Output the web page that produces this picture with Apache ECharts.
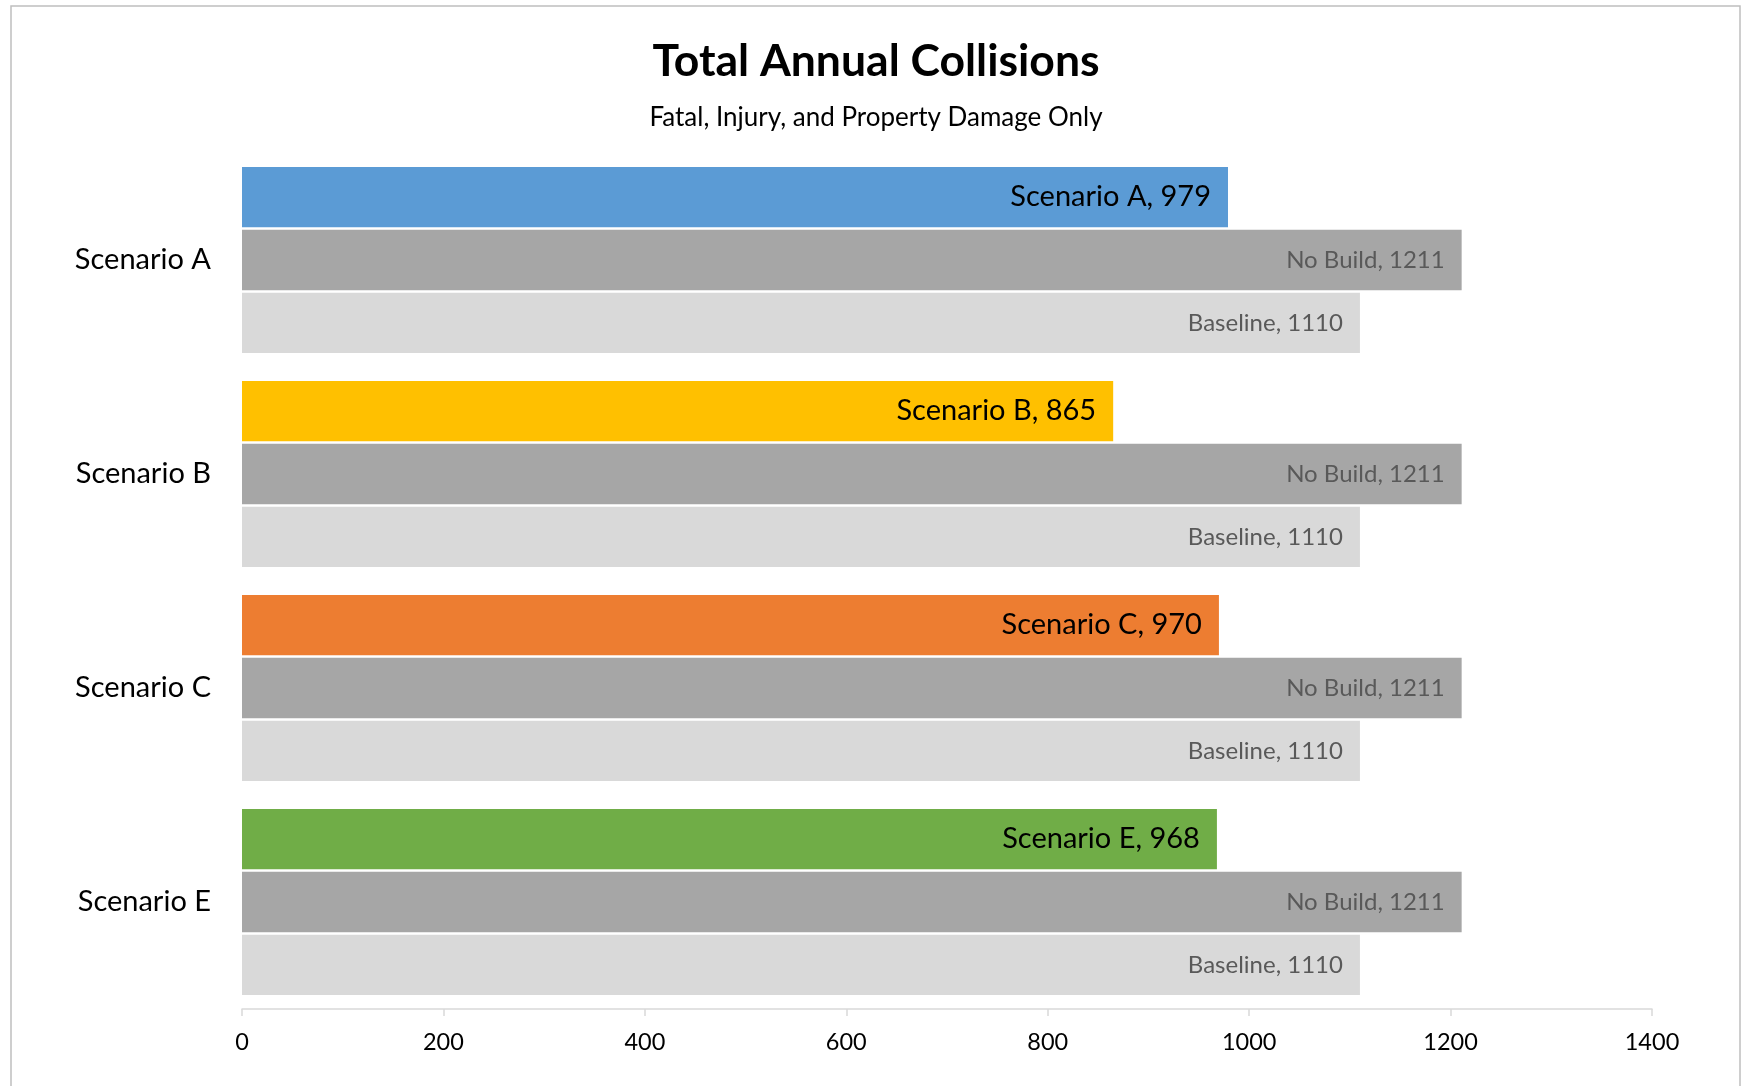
<!DOCTYPE html>
<html>
<head>
<meta charset="utf-8">
<script src="https://cdn.jsdelivr.net/npm/echarts@6/dist/echarts.min.js"></script>
<style>
html,body{margin:0;padding:0;background:#fff;}
#chart{width:1741px;height:1086px;}
</style>
</head>
<body>
<div id="chart"></div>
<script>
const categories = ['Scenario A', 'Scenario B', 'Scenario C', 'Scenario E'];
const scenarioValues = [979, 865, 970, 968];
const noBuildValues = [1211, 1211, 1211, 1211];
const baselineValues = [1110, 1110, 1110, 1110];
const scenarioColors = ['#5B9BD5', '#FFC000', '#ED7D31', '#70AD47'];
const xTicks = [0, 200, 400, 600, 800, 1000, 1200, 1400];

const FONT = 'Lato';
const chart = echarts.init(document.getElementById('chart'));
chart.setOption({
  animation: false,
  backgroundColor: '#ffffff',
  title: [
    {text: 'Total Annual Collisions', left: 871, top: 34, textAlign: 'center',
     textStyle: {fontFamily: FONT, fontWeight: 'bold', fontSize: 44.5, color: '#000'}},
    {text: 'Fatal, Injury, and Property Damage Only', left: 871, top: 100, textAlign: 'center',
     textStyle: {fontFamily: FONT, fontWeight: 'normal', fontSize: 26, color: '#000'}}
  ],
  graphic: [{
    type: 'rect', silent: true, z: -1,
    shape: {x: 11, y: 6, width: 1729, height: 1200},
    style: {fill: 'none', stroke: '#bfbfbf', lineWidth: 1.5}
  }],
  grid: {left: 242, right: 89, top: 153, bottom: 77, containLabel: false},
  xAxis: {
    type: 'value', min: 0, max: 1400, interval: 200,
    axisLine: {show: true, lineStyle: {color: '#d9d9d9', width: 1.5}},
    axisTick: {show: true, length: 7, lineStyle: {color: '#d9d9d9', width: 1.5}},
    splitLine: {show: false},
    axisLabel: {fontFamily: FONT, fontSize: 23.5, color: '#000', margin: 21,
      formatter: v => xTicks.includes(v) ? String(v) : ''}
  },
  yAxis: {
    type: 'category', data: categories, inverse: true,
    axisLine: {show: false}, axisTick: {show: false},
    axisLabel: {fontFamily: FONT, fontSize: 29, color: '#000', margin: 31}
  },
  series: [
    {
      name: 'Scenario', type: 'bar', barGap: '4.5%', barCategoryGap: '13%',
      data: scenarioValues.map((v, i) => ({value: v, itemStyle: {color: scenarioColors[i]}})),
      label: {show: true, position: 'insideRight', distance: 17, formatter: '{b}, {c}',
        fontFamily: FONT, fontSize: 29, color: '#000'}
    },
    {
      name: 'No Build', type: 'bar', barGap: '4.5%', barCategoryGap: '13%',
      data: noBuildValues, itemStyle: {color: '#A6A6A6'},
      label: {show: true, position: 'insideRight', distance: 17, formatter: '{a}, {c}',
        fontFamily: FONT, fontSize: 24, color: '#595959'}
    },
    {
      name: 'Baseline', type: 'bar', barGap: '4.5%', barCategoryGap: '13%',
      data: baselineValues, itemStyle: {color: '#D9D9D9'},
      label: {show: true, position: 'insideRight', distance: 17, formatter: '{a}, {c}',
        fontFamily: FONT, fontSize: 24, color: '#595959'}
    }
  ]
});
</script>
</body>
</html>
